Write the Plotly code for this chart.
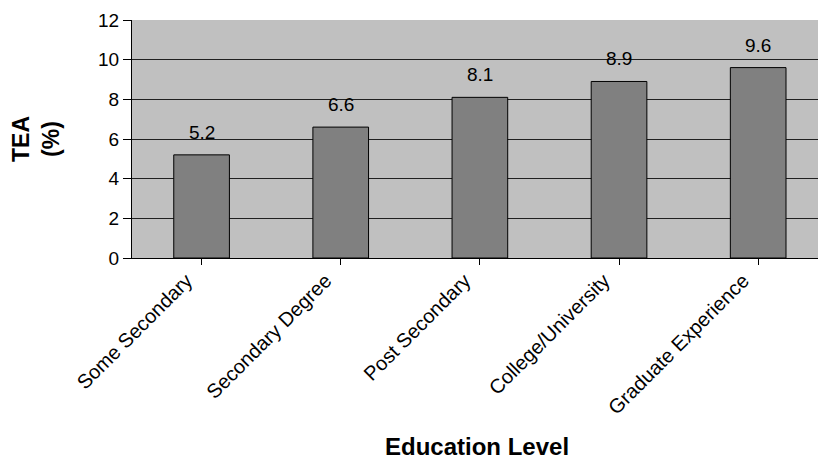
import plotly.graph_objects as go

# Total early-stage entrepreneurial activity by education level
categories = ["Some Secondary", "Secondary Degree", "Post Secondary",
              "College/University", "Graduate Experience"]
tea_values = [5.2, 6.6, 8.1, 8.9, 9.6]
y_ticks = [0, 2, 4, 6, 8, 10, 12]

W, H = 818, 459
L, T, B = 132, 20, 201
cat_w = 139.15  # pixel width per category slot
FONT = "Liberation Sans, Arial, sans-serif"

fig = go.Figure()
fig.add_trace(go.Bar(
    x=list(range(len(categories))),
    y=tea_values,
    width=0.4,
    marker=dict(color="#808080", line=dict(color="#000000", width=1)),
    hoverinfo="skip",
))

# value labels sitting above each bar
for i, v in enumerate(tea_values):
    fig.add_annotation(
        x=i, y=v, xref="x", yref="y",
        text=f"{v:.1f}", showarrow=False,
        xanchor="center", yanchor="bottom", yshift=10,
        font=dict(family=FONT, size=19, color="#000000"),
    )

x_right = (W - L) / cat_w - 0.5

fig.update_layout(
    width=W, height=H,
    margin=dict(l=L, r=0, t=T, b=B, pad=0),
    paper_bgcolor="#ffffff",
    plot_bgcolor="#C0C0C0",
    showlegend=False,
    font=dict(family=FONT, size=16, color="#000000"),
    xaxis=dict(
        range=[-0.5, x_right],
        tickmode="array",
        tickvals=list(range(len(categories))),
        ticktext=categories,
        tickangle=-45,
        tickson="boundaries",
        ticks="outside", ticklen=6, tickcolor="#000000", tickwidth=1,
        showgrid=False,
        showline=True, linecolor="#000000", linewidth=1,
        tickfont=dict(size=20),
        ticklabelshift=-15,
        ticklabelstandoff=-4,
        zeroline=False,
    ),
    yaxis=dict(
        range=[0, 12],
        tickmode="array",
        tickvals=y_ticks,
        ticks="outside", ticklen=8, tickcolor="#000000", tickwidth=1,
        showgrid=True, gridcolor="#202020", gridwidth=1,
        showline=True, linecolor="#000000", linewidth=1,
        tickfont=dict(size=19),
        zeroline=False,
    ),
    bargap=0.6,
)

fig.add_annotation(
    text="<b>TEA<br>(%)</b>", textangle=-90,
    xref="paper", yref="paper",
    x=-(L - 36) / (W - L), y=0.5,
    xanchor="center", yanchor="middle",
    showarrow=False, font=dict(size=23),
)
fig.add_annotation(
    text="<b>Education Level</b>",
    xref="paper", yref="paper",
    x=(477 - L) / (W - L), y=-(447 - (H - B)) / (H - B - T),
    xanchor="center", yanchor="middle",
    showarrow=False, font=dict(size=24),
)

fig.write_html("out.html")
